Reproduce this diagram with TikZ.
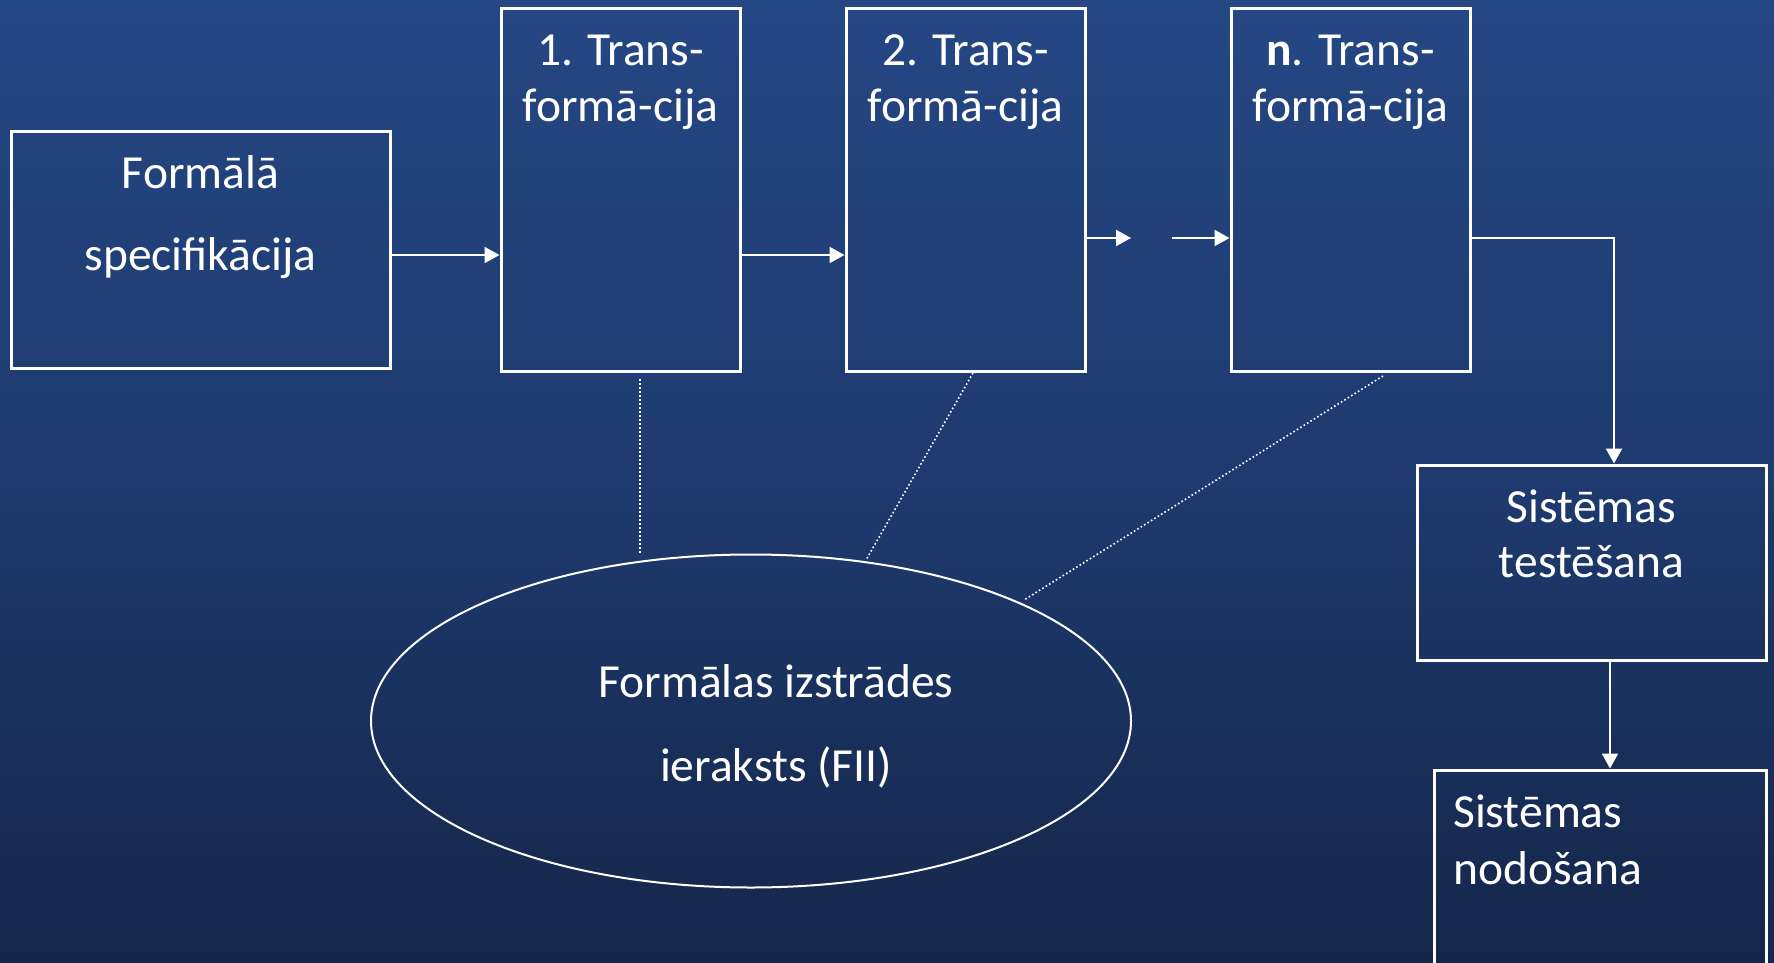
\documentclass[tikz,border=0pt]{standalone}
\usepackage{fontspec}
\setmainfont{Carlito}
\usetikzlibrary{arrows.meta,shapes.geometric}
\definecolor{bgtop}{HTML}{254784}
\definecolor{bgmid}{HTML}{1E3A6E}
\definecolor{bgbot}{HTML}{15264A}
\begin{document}
\begin{tikzpicture}[x=1pt,y=-1pt,
  box/.style={draw=white,line width=3pt,rectangle,inner sep=0pt},
  lbl/.style={text=white,inner sep=0pt,font=\fontsize{47.5}{57}\selectfont},
  arr/.style={draw=white,line width=2pt,-{Triangle[length=15pt,width=16pt]}},
  link/.style={draw=white,line width=1.6pt,dash pattern=on 1.6pt off 2.4pt}]
% slide background
\useasboundingbox (0,0) rectangle (1774,963);
\clip (0,0) rectangle (1774,963);
\shade[top color=bgtop,bottom color=bgbot,middle color=bgmid] (0,0) rectangle (1774,963);

% boxes
\node[box,minimum width=379pt,minimum height=236pt] (spec) at (200.5,250) {};
\node[box,minimum width=239pt,minimum height=362pt] (t1) at (620.5,190) {};
\node[box,minimum width=239pt,minimum height=362pt] (t2) at (965.5,190) {};
\node[box,minimum width=239pt,minimum height=362pt] (tn) at (1350.5,190) {};
\node[box,minimum width=349pt,minimum height=195pt] (test) at (1591.5,562.5) {};
\node[box,minimum width=332pt,minimum height=260pt] (deliv) at (1600,900) {};
\node[draw=white,line width=2pt,ellipse,minimum width=760pt,minimum height=333pt,inner sep=0pt] (rec) at (751,721) {};

% box texts
\node[lbl] (specA) at (200.5,172) {Formālā};
\node[lbl] (specB) at (200.5,258) {specifikācija};
\node[lbl] (t1A) at (620.5,50) {1. Trans-};
\node[lbl] (t1B) at (620.5,109) {formā-cija};
\node[lbl] (t2A) at (965.5,50) {2. Trans-};
\node[lbl] (t2B) at (965.5,109) {formā-cija};
\node[lbl] (tnA) at (1350.5,50) {\textbf{n}. Trans-};
\node[lbl] (tnB) at (1350.5,109) {formā-cija};
\node[lbl] (testA) at (1591.5,506) {Sistēmas};
\node[lbl] (testB) at (1591.5,562) {testēšana};
\node[lbl,anchor=west] (delA) at (1453,811) {Sistēmas};
\node[lbl,anchor=west] (delB) at (1453,868) {nodošana};
\node[lbl] (recA) at (776,681) {Formālas izstrādes};
\node[lbl] (recB) at (776,767) {ieraksts (FII)};

% flow between stages
\draw[arr] (spec.east |- 0,255) -- (t1.west |- 0,255);
\draw[arr] (t1.east |- 0,255) -- (t2.west |- 0,255);
\coordinate (gapA) at (1131,238);
\coordinate (gapB) at (1172,238);
\draw[arr] (t2.east |- gapA) -- (gapA);
\draw[arr] (gapB) -- (tn.west |- gapB);
\coordinate (bend) at (1614,238);
\draw[arr] (tn.east |- bend) -- (bend) -- (bend |- test.north);
\draw[arr] (test.south -| 1610,0) -- (deliv.north -| 1610,0);

% links to the development record
\coordinate (l1a) at (640,379);
\coordinate (l1b) at (640,554);
\coordinate (l2a) at (973,373);
\coordinate (l2b) at (866,560);
\coordinate (l3a) at (1383,376);
\coordinate (l3b) at (1024,600);
\draw[link] (l1a) -- (l1b);
\draw[link] (l2a) -- (l2b);
\draw[link] (l3a) -- (l3b);
\end{tikzpicture}
\end{document}
